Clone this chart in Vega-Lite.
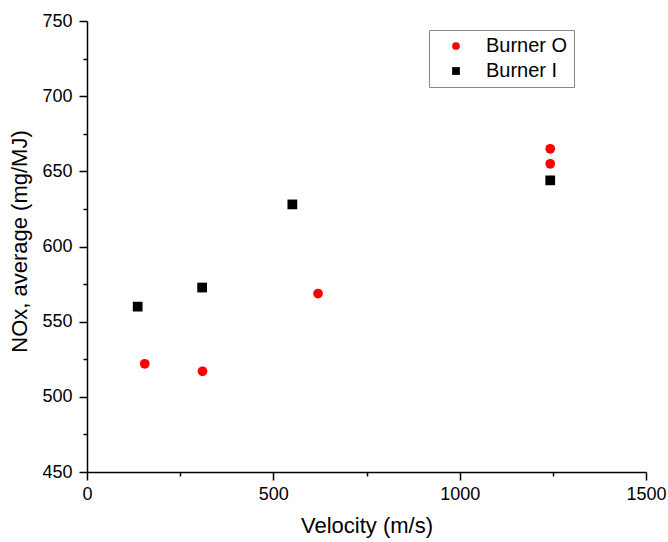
{
  "$schema": "https://vega.github.io/schema/vega-lite/v6.json",
  "width": 559,
  "height": 451,
  "autosize": {"type": "none"},
  "padding": {"left": 87, "top": 21, "right": 22, "bottom": 70},
  "background": "white",
  "config": {"view": {"stroke": null}, "font": "Liberation Sans"},
  "data": {
    "values": [
      {"burner": "Burner O", "velocity": 155, "nox": 522},
      {"burner": "Burner O", "velocity": 310, "nox": 517},
      {"burner": "Burner O", "velocity": 620, "nox": 568.7},
      {"burner": "Burner O", "velocity": 1243, "nox": 665},
      {"burner": "Burner O", "velocity": 1243, "nox": 655},
      {"burner": "Burner I", "velocity": 136, "nox": 560},
      {"burner": "Burner I", "velocity": 309, "nox": 572.7},
      {"burner": "Burner I", "velocity": 551, "nox": 628},
      {"burner": "Burner I", "velocity": 1243, "nox": 644}
    ]
  },
  "mark": {"type": "point", "filled": true, "opacity": 1, "size": 95},
  "encoding": {
    "x": {
      "field": "velocity",
      "type": "quantitative",
      "scale": {"domain": [0, 1500], "nice": false, "zero": false},
      "axis": {
        "title": "Velocity (m/s)",
        "values": [0, 250, 500, 750, 1000, 1250, 1500],
        "format": "d",
        "labelExpr": "datum.value % 500 === 0 ? datum.label : ''",
        "grid": false,
        "domainColor": "black",
        "domainWidth": 1.5,
        "tickColor": "black",
        "tickWidth": 1.5,
        "tickSize": {"condition": {"test": "datum.value % 500 === 0", "value": 8}, "value": 4},
        "labelFontSize": 18,
        "labelColor": "black",
        "labelPadding": 5,
        "labelFlush": false,
        "labelOverlap": false,
        "titleFontSize": 22,
        "titleFontWeight": "normal",
        "titleColor": "black",
        "titlePadding": 12
      }
    },
    "y": {
      "field": "nox",
      "type": "quantitative",
      "scale": {"domain": [450, 750], "nice": false, "zero": false},
      "axis": {
        "title": "NOx, average (mg/MJ)",
        "values": [450, 475, 500, 525, 550, 575, 600, 625, 650, 675, 700, 725, 750],
        "format": "d",
        "labelExpr": "datum.value % 50 === 0 ? datum.label : ''",
        "grid": false,
        "domainColor": "black",
        "domainWidth": 1.5,
        "tickColor": "black",
        "tickWidth": 1.5,
        "tickSize": {"condition": {"test": "datum.value % 50 === 0", "value": 8}, "value": 4},
        "labelFontSize": 18,
        "labelColor": "black",
        "labelPadding": 7,
        "labelFlush": false,
        "labelOverlap": false,
        "titleFontSize": 22,
        "titleFontWeight": "normal",
        "titleColor": "black",
        "titlePadding": 10,
        "titleY": 220
      }
    },
    "color": {
      "field": "burner",
      "type": "nominal",
      "scale": {"domain": ["Burner O", "Burner I"], "range": ["#ff0000", "#000000"]},
      "legend": {
        "title": null,
        "orient": "none",
        "legendX": 342,
        "legendY": 9,
        "strokeColor": "#888888",
        "padding": 6,
        "labelFontSize": 20,
        "labelColor": "black",
        "symbolSize": 60,
        "symbolOffset": 11,
        "labelOffset": 20,
        "rowPadding": 5
      }
    },
    "shape": {
      "field": "burner",
      "type": "nominal",
      "scale": {"domain": ["Burner O", "Burner I"], "range": ["circle", "square"]}
    }
  }
}
